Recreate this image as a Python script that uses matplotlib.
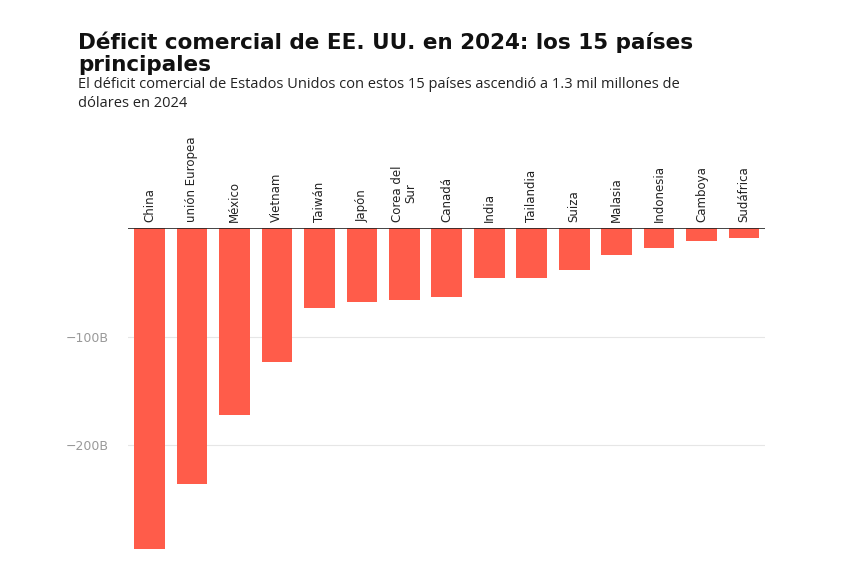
import matplotlib.pyplot as plt
import numpy as np

countries = ["China", "unión Europea", "México", "Vietnam", "Taiwán", "Japón",
             "Corea del\nSur", "Canadá", "India", "Tailandia", "Suiza", "Malasia",
             "Indonesia", "Camboya", "Sudáfrica"]
deficit = [-295.4, -235.6, -171.8, -123.5, -73.9, -68.5, -66.0, -63.3,
           -45.7, -45.6, -38.5, -24.8, -17.9, -12.3, -8.8]

fig = plt.figure(figsize=(8.6, 5.73), dpi=100)
ax = fig.add_axes([0.149, 0.037, 0.741, 0.565])
x = np.arange(len(countries))
ax.bar(x, deficit, width=0.72, color="#ff5c4a", zorder=2)
ax.axhline(0, color="#222222", lw=1.2, zorder=3)
ax.set_xlim(-0.5, len(countries) - 0.5)
ax.set_ylim(-298, 0)
ax.set_yticks([-100, -200])
ax.set_yticklabels(["\u2212100B", "\u2212200B"], color="#999999", fontsize=9)
ax.yaxis.grid(True, color="#e6e6e6", lw=0.8, zorder=0)
ax.tick_params(length=0, pad=14)
ax.set_xticks([])
for s in ax.spines.values():
    s.set_visible(False)
for xi, c in zip(x, countries):
    ax.text(xi, 6, c, rotation=90, ha="center", va="bottom", fontsize=8.5,
            color="#222222", linespacing=1.0)

fig.text(0.091, 0.945, "Déficit comercial de EE. UU. en 2024: los 15 países\nprincipales",
         fontsize=15.5, fontweight="bold", va="top", linespacing=1.15, color="#111111")
fig.text(0.091, 0.865, "El déficit comercial de Estados Unidos con estos 15 países ascendió a 1.3 mil millones de\ndólares en 2024",
         fontsize=10.5, va="top", linespacing=1.35, color="#222222", family="Open Sans")
fig.savefig("out.png", dpi=100, facecolor="white")
